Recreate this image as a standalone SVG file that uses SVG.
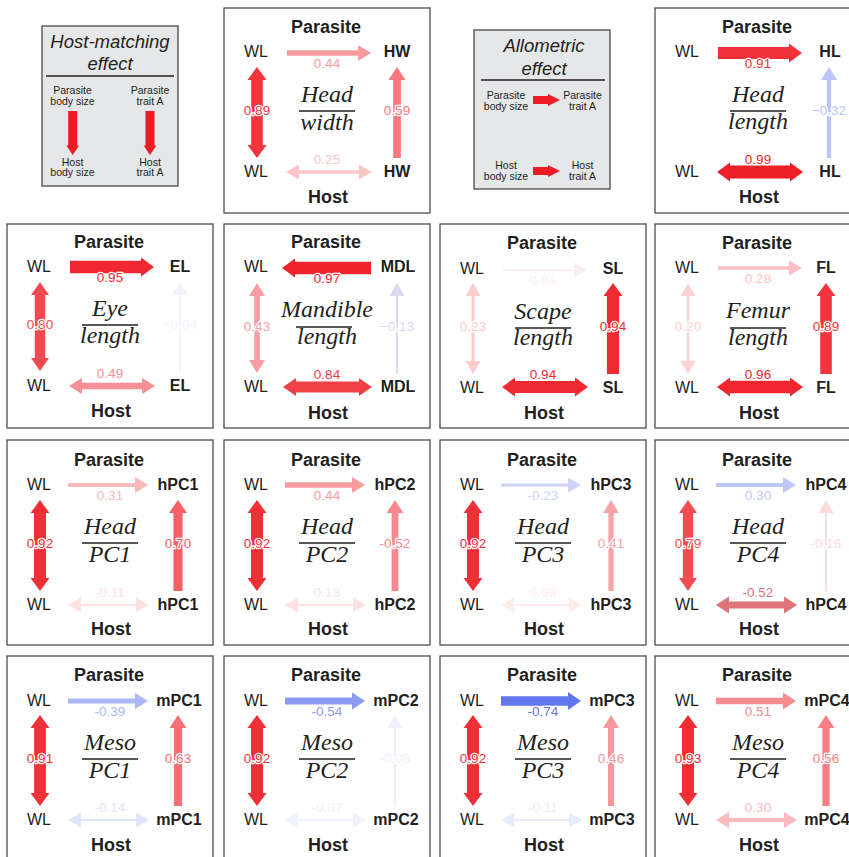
<svg xmlns="http://www.w3.org/2000/svg" width="849" height="857" viewBox="0 0 849 857">
  <style>
    .pb { fill: #fff; stroke: #4d4d4d; stroke-width: 1.3; }
    .lg { fill: #E6E7E8; stroke: #3a3a3a; stroke-width: 1.2; }
    text { font-family: "Liberation Sans", Arial, sans-serif; fill: #231F20; text-anchor: middle; }
    .grp { font-size: 18px; font-weight: bold; }
    .nd { font-size: 16px; }
    .ndb { font-size: 16px; font-weight: bold; }
    .frac { font-family: "Liberation Serif", "Times New Roman", serif; font-style: italic; font-size: 24px; }
    .fl { stroke: #231F20; stroke-width: 1.3; }
    .lt { font-size: 18.5px; font-style: italic; }
    .ls { font-size: 10.5px; }
    .conn polygon { stroke: none; }
    .conn line { fill: none; }
    .conn text.v { fill: inherit; font-size: 13.5px; stroke: #fff; stroke-width: 2.5; paint-order: stroke; stroke-linejoin: round; }
  </style>

  <!-- Key: host-matching effect -->
  <g id="key-host-matching">
    <rect class="lg" x="42" y="26" width="136" height="160"/>
    <text class="lt" x="110" y="48">Host-matching</text>
    <text class="lt" x="110" y="70">effect</text>
    <line class="fl" x1="46" y1="76" x2="174" y2="76"/>
    <text class="ls" x="72.5" y="94">Parasite</text>
    <text class="ls" x="72.5" y="104.5">body size</text>
    <text class="ls" x="150" y="94">Parasite</text>
    <text class="ls" x="150" y="104.5">trait A</text>
    <g fill="#ED1C24">
      <rect x="68.2" y="111" width="9" height="35"/>
      <polygon points="72.7,155 66.3,145.5 79.1,145.5"/>
      <rect x="145.5" y="111" width="9" height="35"/>
      <polygon points="150,155 143.6,145.5 156.4,145.5"/>
    </g>
    <text class="ls" x="72.5" y="165.5">Host</text>
    <text class="ls" x="72.5" y="176">body size</text>
    <text class="ls" x="150" y="165.5">Host</text>
    <text class="ls" x="150" y="176">trait A</text>
  </g>

  <!-- Key: allometric effect -->
  <g id="key-allometric">
    <rect class="lg" x="474" y="30" width="136" height="159"/>
    <text class="lt" x="544" y="52">Allometric</text>
    <text class="lt" x="544" y="75">effect</text>
    <line class="fl" x1="481" y1="80" x2="605" y2="80"/>
    <text class="ls" x="506" y="99">Parasite</text>
    <text class="ls" x="506" y="110">body size</text>
    <text class="ls" x="582.5" y="99">Parasite</text>
    <text class="ls" x="582.5" y="110">trait A</text>
    <text class="ls" x="506" y="169">Host</text>
    <text class="ls" x="506" y="180">body size</text>
    <text class="ls" x="582.5" y="169">Host</text>
    <text class="ls" x="582.5" y="180">trait A</text>
    <g fill="#ED1C24">
      <rect x="533" y="96" width="16" height="8"/>
      <polygon points="560,100 548,94 548,106"/>
      <rect x="533" y="167" width="16" height="8"/>
      <polygon points="560,171 548,165 548,177"/>
    </g>
  </g>

  <!-- Head width -->
  <g id="head-width" transform="translate(224,8)">
    <rect class="pb" x="0" y="0" width="206" height="205"/>
    <text class="grp" x="102" y="25">Parasite</text>
    <text class="grp" x="104" y="195">Host</text>
    <text class="frac" x="103" y="94">Head</text>
    <line class="fl" x1="75" y1="103" x2="131" y2="103"/>
    <text class="frac" x="103" y="122">width</text>
    <g id="hw-p-wl"><text class="nd" x="32" y="49">WL</text></g>
    <g id="hw-p-tr"><text class="ndb" x="173" y="49">HW</text></g>
    <g id="hw-h-wl"><text class="nd" x="32" y="169">WL</text></g>
    <g id="hw-h-tr"><text class="ndb" x="173" y="169">HW</text></g>
    <g class="conn">
      <g fill="#F89B9F" stroke="#F89B9F"><line x1="63" y1="45" x2="136" y2="45" stroke-width="5.7"/><polygon points="147,45 134,37 134,53"/><text class="v" x="103" y="60">0.44</text></g>
      <g fill="#F0363C" stroke="#F0363C"><line x1="33" y1="71" x2="33" y2="138" stroke-width="11.6"/><polygon points="33,59 23.5,72 42.5,72"/><polygon points="33,150 23.5,137 42.5,137"/><text class="v" x="33" y="107">0.89</text></g>
      <g fill="#F5797E" stroke="#F5797E"><line x1="173" y1="150" x2="173" y2="71" stroke-width="7.7"/><polygon points="173,59 164.5,72 181.5,72"/><text class="v" x="173" y="107">0.59</text></g>
      <g fill="#FBC6C8" stroke="#FBC6C8"><line x1="74" y1="164" x2="136" y2="164" stroke-width="3.3"/><polygon points="62,164 75,156.5 75,171.5"/><polygon points="148,164 135,156.5 135,171.5"/><text class="v" x="103" y="156">0.25</text></g>
    </g>
  </g>

  <!-- Head length -->
  <g id="head-length" transform="translate(655,8)">
    <rect class="pb" x="0" y="0" width="206" height="205"/>
    <text class="grp" x="102" y="25">Parasite</text>
    <text class="grp" x="104" y="195">Host</text>
    <text class="frac" x="103" y="94">Head</text>
    <line class="fl" x1="75" y1="103" x2="131" y2="103"/>
    <text class="frac" x="103" y="121">length</text>
    <g id="hl-p-wl"><text class="nd" x="32" y="49">WL</text></g>
    <g id="hl-p-tr"><text class="ndb" x="175" y="49">HL</text></g>
    <g id="hl-h-wl"><text class="nd" x="32" y="169">WL</text></g>
    <g id="hl-h-tr"><text class="ndb" x="175" y="169">HL</text></g>
    <g class="conn">
      <g fill="#F03138" stroke="#F03138"><line x1="63" y1="45" x2="136" y2="45" stroke-width="11.8"/><polygon points="147,45 134,35.5 134,54.5"/><text class="v" x="103" y="60">0.91</text></g>
      <g fill="#BAC4F7" stroke="#BAC4F7"><line x1="174" y1="150" x2="174" y2="71" stroke-width="4.2"/><polygon points="174,59 166,72 182,72"/><text class="v" x="174" y="107">−0.32</text></g>
      <g fill="#EE1F26" stroke="#EE1F26"><line x1="74" y1="164" x2="136" y2="164" stroke-width="12.9"/><polygon points="62,164 75,154.5 75,173.5"/><polygon points="148,164 135,154.5 135,173.5"/><text class="v" x="103" y="156">0.99</text></g>
    </g>
  </g>

  <!-- Eye length -->
  <g id="eye-length" transform="translate(7,224)">
    <rect class="pb" x="0" y="0" width="206" height="204"/>
    <text class="grp" x="102" y="24">Parasite</text>
    <text class="grp" x="104" y="193">Host</text>
    <text class="frac" x="103" y="92">Eye</text>
    <line class="fl" x1="75" y1="101" x2="131" y2="101"/>
    <text class="frac" x="103" y="119">length</text>
    <g id="el-p-wl"><text class="nd" x="32" y="48">WL</text></g>
    <g id="el-p-tr"><text class="ndb" x="173" y="48">EL</text></g>
    <g id="el-h-wl"><text class="nd" x="32" y="167">WL</text></g>
    <g id="el-h-tr"><text class="ndb" x="173" y="167">EL</text></g>
    <g class="conn">
      <g fill="#EF282F" stroke="#EF282F"><line x1="63" y1="43" x2="136" y2="43" stroke-width="12.4"/><polygon points="147,43 134,33.5 134,52.5"/><text class="v" x="103" y="58">0.95</text></g>
      <g fill="#F14A50" stroke="#F14A50"><line x1="33" y1="70" x2="33" y2="135" stroke-width="10.4"/><polygon points="33,58 24,71 42,71"/><polygon points="33,147 24,134 42,134"/><text class="v" x="33" y="105">0.80</text></g>
      <g fill="#F2F3FB" stroke="#F2F3FB"><line x1="173" y1="148" x2="173" y2="70" stroke-width="2"/><polygon points="173,58 165.5,71 180.5,71"/><text class="v" x="173" y="105">−0.04</text></g>
      <g fill="#F79094" stroke="#F79094"><line x1="74" y1="162" x2="136" y2="162" stroke-width="6.4"/><polygon points="62,162 75,154 75,170"/><polygon points="148,162 135,154 135,170"/><text class="v" x="103" y="154">0.49</text></g>
    </g>
  </g>

  <!-- Mandible length -->
  <g id="mandible-length" transform="translate(224,224)">
    <rect class="pb" x="0" y="0" width="206" height="204"/>
    <text class="grp" x="102" y="24">Parasite</text>
    <text class="grp" x="104" y="195">Host</text>
    <text class="frac" x="103" y="93">Mandible</text>
    <line class="fl" x1="72" y1="103" x2="128" y2="103"/>
    <text class="frac" x="103" y="120">length</text>
    <g id="mdl-p-wl"><text class="nd" x="32" y="48">WL</text></g>
    <g id="mdl-p-tr"><text class="ndb" x="174" y="48">MDL</text></g>
    <g id="mdl-h-wl"><text class="nd" x="32" y="168">WL</text></g>
    <g id="mdl-h-tr"><text class="ndb" x="174" y="168">MDL</text></g>
    <g class="conn">
      <g fill="#EF242B" stroke="#EF242B"><line x1="70" y1="44" x2="147" y2="44" stroke-width="12.6"/><polygon points="58,44 71,34.5 71,53.5"/><text class="v" x="103" y="59">0.97</text></g>
      <g fill="#F89DA1" stroke="#F89DA1"><line x1="33" y1="71" x2="33" y2="137" stroke-width="5.6"/><polygon points="33,59 25,72 41,72"/><polygon points="33,149 25,136 41,136"/><text class="v" x="33" y="107">0.43</text></g>
      <g fill="#DCDAF0" stroke="#DCDAF0"><line x1="173" y1="149" x2="173" y2="71" stroke-width="2"/><polygon points="173,59 165.5,72 180.5,72"/><text class="v" x="173" y="107">−0.13</text></g>
      <g fill="#F14147" stroke="#F14147"><line x1="71" y1="163" x2="136" y2="163" stroke-width="10.9"/><polygon points="59,163 72,154 72,172"/><polygon points="148,163 135,154 135,172"/><text class="v" x="103" y="155">0.84</text></g>
    </g>
  </g>

  <!-- Scape length -->
  <g id="scape-length" transform="translate(440,224)">
    <rect class="pb" x="0" y="0" width="206" height="204"/>
    <text class="grp" x="102" y="25">Parasite</text>
    <text class="grp" x="104" y="195">Host</text>
    <text class="frac" x="103" y="95">Scape</text>
    <line class="fl" x1="75" y1="104" x2="131" y2="104"/>
    <text class="frac" x="103" y="121">length</text>
    <g id="sl-p-wl"><text class="nd" x="32" y="50">WL</text></g>
    <g id="sl-p-tr"><text class="ndb" x="173" y="50">SL</text></g>
    <g id="sl-h-wl"><text class="nd" x="32" y="169">WL</text></g>
    <g id="sl-h-tr"><text class="ndb" x="173" y="169">SL</text></g>
    <g class="conn">
      <g fill="#FDEEEE" stroke="#FDEEEE"><line x1="63" y1="46" x2="136" y2="46" stroke-width="2"/><polygon points="147,46 134,38.5 134,53.5"/><text class="v" x="103" y="61">0.04</text></g>
      <g fill="#FBCBCD" stroke="#FBCBCD"><line x1="33" y1="71" x2="33" y2="138" stroke-width="3"/><polygon points="33,59 25.5,72 40.5,72"/><polygon points="33,150 25.5,137 40.5,137"/><text class="v" x="33" y="107">0.23</text></g>
      <g fill="#EF2B31" stroke="#EF2B31"><line x1="173" y1="150" x2="173" y2="71" stroke-width="12.2"/><polygon points="173,59 163.5,72 182.5,72"/><text class="v" x="173" y="107">0.94</text></g>
      <g fill="#EF2B31" stroke="#EF2B31"><line x1="74" y1="163" x2="136" y2="163" stroke-width="12.2"/><polygon points="62,163 75,153.5 75,172.5"/><polygon points="148,163 135,153.5 135,172.5"/><text class="v" x="103" y="155">0.94</text></g>
    </g>
  </g>

  <!-- Femur length -->
  <g id="femur-length" transform="translate(655,224)">
    <rect class="pb" x="0" y="0" width="206" height="204"/>
    <text class="grp" x="102" y="25">Parasite</text>
    <text class="grp" x="104" y="195">Host</text>
    <text class="frac" x="103" y="94">Femur</text>
    <line class="fl" x1="75" y1="104" x2="131" y2="104"/>
    <text class="frac" x="103" y="121">length</text>
    <g id="fl-p-wl"><text class="nd" x="32" y="49">WL</text></g>
    <g id="fl-p-tr"><text class="ndb" x="171" y="49">FL</text></g>
    <g id="fl-h-wl"><text class="nd" x="32" y="169">WL</text></g>
    <g id="fl-h-tr"><text class="ndb" x="171" y="169">FL</text></g>
    <g class="conn">
      <g fill="#FABFC2" stroke="#FABFC2"><line x1="63" y1="44" x2="136" y2="44" stroke-width="3.6"/><polygon points="147,44 134,36.5 134,51.5"/><text class="v" x="103" y="59">0.28</text></g>
      <g fill="#FCD2D3" stroke="#FCD2D3"><line x1="33" y1="71" x2="33" y2="138" stroke-width="2.6"/><polygon points="33,59 25.5,72 40.5,72"/><polygon points="33,150 25.5,137 40.5,137"/><text class="v" x="33" y="107">0.20</text></g>
      <g fill="#F0363C" stroke="#F0363C"><line x1="171" y1="150" x2="171" y2="71" stroke-width="11.6"/><polygon points="171,59 161.5,72 180.5,72"/><text class="v" x="171" y="107">0.89</text></g>
      <g fill="#EF262D" stroke="#EF262D"><line x1="74" y1="163" x2="136" y2="163" stroke-width="12.5"/><polygon points="62,163 75,153.5 75,172.5"/><polygon points="148,163 135,153.5 135,172.5"/><text class="v" x="103" y="155">0.96</text></g>
    </g>
  </g>

  <!-- Head PC1 -->
  <g id="head-pc1" transform="translate(7,440)">
    <rect class="pb" x="0" y="0" width="206" height="205"/>
    <text class="grp" x="102" y="26">Parasite</text>
    <text class="grp" x="104" y="195">Host</text>
    <text class="frac" x="103" y="94">Head</text>
    <line class="fl" x1="75" y1="103" x2="131" y2="103"/>
    <text class="frac" x="103" y="122">PC1</text>
    <g id="hpc1-p-wl"><text class="nd" x="32" y="50">WL</text></g>
    <g id="hpc1-p-tr"><text class="ndb" x="171" y="50">hPC1</text></g>
    <g id="hpc1-h-wl"><text class="nd" x="32" y="170">WL</text></g>
    <g id="hpc1-h-tr"><text class="ndb" x="171" y="170">hPC1</text></g>
    <g class="conn">
      <g fill="#FAB9BB" stroke="#FAB9BB"><line x1="61" y1="45" x2="130" y2="45" stroke-width="4"/><polygon points="141,45 128,37 128,53"/><text class="v" x="103" y="60">0.31</text></g>
      <g fill="#EF2F36" stroke="#EF2F36"><line x1="33" y1="72" x2="33" y2="139" stroke-width="12"/><polygon points="33,60 23.5,73 42.5,73"/><polygon points="33,151 23.5,138 42.5,138"/><text class="v" x="33" y="108">0.92</text></g>
      <g fill="#F36066" stroke="#F36066"><line x1="171" y1="151" x2="171" y2="72" stroke-width="9.1"/><polygon points="171,60 162,73 180,73"/><text class="v" x="171" y="108">0.70</text></g>
      <g fill="#FBE3E2" stroke="#FBE3E2"><line x1="73" y1="165" x2="130" y2="165" stroke-width="2"/><polygon points="61,165 74,157.5 74,172.5"/><polygon points="142,165 129,157.5 129,172.5"/><text class="v" x="103" y="157">-0.11</text></g>
    </g>
  </g>

  <!-- Head PC2 -->
  <g id="head-pc2" transform="translate(224,440)">
    <rect class="pb" x="0" y="0" width="206" height="205"/>
    <text class="grp" x="102" y="26">Parasite</text>
    <text class="grp" x="104" y="195">Host</text>
    <text class="frac" x="103" y="94">Head</text>
    <line class="fl" x1="75" y1="103" x2="131" y2="103"/>
    <text class="frac" x="103" y="122">PC2</text>
    <g id="hpc2-p-wl"><text class="nd" x="32" y="50">WL</text></g>
    <g id="hpc2-p-tr"><text class="ndb" x="171" y="50">hPC2</text></g>
    <g id="hpc2-h-wl"><text class="nd" x="32" y="170">WL</text></g>
    <g id="hpc2-h-tr"><text class="ndb" x="171" y="170">hPC2</text></g>
    <g class="conn">
      <g fill="#F89B9F" stroke="#F89B9F"><line x1="61" y1="45" x2="130" y2="45" stroke-width="5.7"/><polygon points="141,45 128,37 128,53"/><text class="v" x="103" y="60">0.44</text></g>
      <g fill="#EF2F36" stroke="#EF2F36"><line x1="33" y1="72" x2="33" y2="139" stroke-width="12"/><polygon points="33,60 23.5,73 42.5,73"/><polygon points="33,151 23.5,138 42.5,138"/><text class="v" x="33" y="108">0.92</text></g>
      <g fill="#F6898E" stroke="#F6898E"><line x1="171" y1="151" x2="171" y2="72" stroke-width="6.8"/><polygon points="171,60 162.5,73 179.5,73"/><text class="v" x="171" y="108">-0.52</text></g>
      <g fill="#FDE2E3" stroke="#FDE2E3"><line x1="73" y1="165" x2="130" y2="165" stroke-width="2"/><polygon points="61,165 74,157.5 74,172.5"/><polygon points="142,165 129,157.5 129,172.5"/><text class="v" x="103" y="157">0.13</text></g>
    </g>
  </g>

  <!-- Head PC3 -->
  <g id="head-pc3" transform="translate(440,440)">
    <rect class="pb" x="0" y="0" width="206" height="205"/>
    <text class="grp" x="102" y="26">Parasite</text>
    <text class="grp" x="104" y="195">Host</text>
    <text class="frac" x="103" y="94">Head</text>
    <line class="fl" x1="75" y1="103" x2="131" y2="103"/>
    <text class="frac" x="103" y="122">PC3</text>
    <g id="hpc3-p-wl"><text class="nd" x="32" y="50">WL</text></g>
    <g id="hpc3-p-tr"><text class="ndb" x="171" y="50">hPC3</text></g>
    <g id="hpc3-h-wl"><text class="nd" x="32" y="170">WL</text></g>
    <g id="hpc3-h-tr"><text class="ndb" x="171" y="170">hPC3</text></g>
    <g class="conn">
      <g fill="#CED4F9" stroke="#CED4F9"><line x1="61" y1="45" x2="130" y2="45" stroke-width="3"/><polygon points="141,45 128,37.5 128,52.5"/><text class="v" x="103" y="60">-0.23</text></g>
      <g fill="#EF2F36" stroke="#EF2F36"><line x1="33" y1="72" x2="33" y2="139" stroke-width="12"/><polygon points="33,60 23.5,73 42.5,73"/><polygon points="33,151 23.5,138 42.5,138"/><text class="v" x="33" y="108">0.92</text></g>
      <g fill="#F8A2A6" stroke="#F8A2A6"><line x1="171" y1="151" x2="171" y2="72" stroke-width="5.3"/><polygon points="171,60 163,73 179,73"/><text class="v" x="171" y="108">0.41</text></g>
      <g fill="#FEEBEB" stroke="#FEEBEB"><line x1="73" y1="165" x2="130" y2="165" stroke-width="2"/><polygon points="61,165 74,157.5 74,172.5"/><polygon points="142,165 129,157.5 129,172.5"/><text class="v" x="103" y="157">0.09</text></g>
    </g>
  </g>

  <!-- Head PC4 -->
  <g id="head-pc4" transform="translate(655,440)">
    <rect class="pb" x="0" y="0" width="206" height="205"/>
    <text class="grp" x="102" y="26">Parasite</text>
    <text class="grp" x="104" y="195">Host</text>
    <text class="frac" x="103" y="94">Head</text>
    <line class="fl" x1="75" y1="103" x2="131" y2="103"/>
    <text class="frac" x="103" y="122">PC4</text>
    <g id="hpc4-p-wl"><text class="nd" x="32" y="50">WL</text></g>
    <g id="hpc4-p-tr"><text class="ndb" x="171" y="50">hPC4</text></g>
    <g id="hpc4-h-wl"><text class="nd" x="32" y="170">WL</text></g>
    <g id="hpc4-h-tr"><text class="ndb" x="171" y="170">hPC4</text></g>
    <g class="conn">
      <g fill="#BEC8F7" stroke="#BEC8F7"><line x1="61" y1="45" x2="130" y2="45" stroke-width="3.9"/><polygon points="141,45 128,37 128,53"/><text class="v" x="103" y="60">0.30</text></g>
      <g fill="#F24C52" stroke="#F24C52"><line x1="33" y1="72" x2="33" y2="139" stroke-width="10.3"/><polygon points="33,60 24,73 42,73"/><polygon points="33,151 24,138 42,138"/><text class="v" x="33" y="108">0.79</text></g>
      <g fill="#FCDBDC" stroke="#FCDBDC"><line x1="171" y1="151" x2="171" y2="72" stroke-width="2.1"/><polygon points="171,60 163.5,73 178.5,73"/><text class="v" x="171" y="108">-0.16</text></g>
      <g fill="#DE7479" stroke="#DE7479"><line x1="73" y1="165" x2="130" y2="165" stroke-width="6.8"/><polygon points="61,165 74,156.5 74,173.5"/><polygon points="142,165 129,156.5 129,173.5"/><text class="v" x="103" y="157">-0.52</text></g>
    </g>
  </g>

  <!-- Meso PC1 -->
  <g id="meso-pc1" transform="translate(7,656)">
    <rect class="pb" x="0" y="0" width="206" height="205"/>
    <text class="grp" x="102" y="25">Parasite</text>
    <text class="grp" x="104" y="195">Host</text>
    <text class="frac" x="103" y="94">Meso</text>
    <line class="fl" x1="75" y1="103" x2="131" y2="103"/>
    <text class="frac" x="103" y="122">PC1</text>
    <g id="mpc1-p-wl"><text class="nd" x="32" y="50">WL</text></g>
    <g id="mpc1-p-tr"><text class="ndb" x="172" y="50">mPC1</text></g>
    <g id="mpc1-h-wl"><text class="nd" x="32" y="169">WL</text></g>
    <g id="mpc1-h-tr"><text class="ndb" x="172" y="169">mPC1</text></g>
    <g class="conn">
      <g fill="#ABB7F5" stroke="#ABB7F5"><line x1="61" y1="45" x2="130" y2="45" stroke-width="5.1"/><polygon points="141,45 128,37 128,53"/><text class="v" x="103" y="60">-0.39</text></g>
      <g fill="#F03138" stroke="#F03138"><line x1="33" y1="71" x2="33" y2="138" stroke-width="11.8"/><polygon points="33,59 23.5,72 42.5,72"/><polygon points="33,150 23.5,137 42.5,137"/><text class="v" x="33" y="107">0.91</text></g>
      <g fill="#F47075" stroke="#F47075"><line x1="171" y1="150" x2="171" y2="71" stroke-width="8.2"/><polygon points="171,59 162.5,72 179.5,72"/><text class="v" x="171" y="107">0.63</text></g>
      <g fill="#E1E5FB" stroke="#E1E5FB"><line x1="73" y1="164" x2="130" y2="164" stroke-width="2"/><polygon points="61,164 74,156.5 74,171.5"/><polygon points="142,164 129,156.5 129,171.5"/><text class="v" x="103" y="156">-0.14</text></g>
    </g>
  </g>

  <!-- Meso PC2 -->
  <g id="meso-pc2" transform="translate(224,656)">
    <rect class="pb" x="0" y="0" width="206" height="205"/>
    <text class="grp" x="102" y="25">Parasite</text>
    <text class="grp" x="104" y="195">Host</text>
    <text class="frac" x="103" y="94">Meso</text>
    <line class="fl" x1="75" y1="103" x2="131" y2="103"/>
    <text class="frac" x="103" y="122">PC2</text>
    <g id="mpc2-p-wl"><text class="nd" x="32" y="50">WL</text></g>
    <g id="mpc2-p-tr"><text class="ndb" x="172" y="50">mPC2</text></g>
    <g id="mpc2-h-wl"><text class="nd" x="32" y="169">WL</text></g>
    <g id="mpc2-h-tr"><text class="ndb" x="172" y="169">mPC2</text></g>
    <g class="conn">
      <g fill="#8B9BF1" stroke="#8B9BF1"><line x1="61" y1="45" x2="130" y2="45" stroke-width="7"/><polygon points="141,45 128,36.5 128,53.5"/><text class="v" x="103" y="60">-0.54</text></g>
      <g fill="#EF2F36" stroke="#EF2F36"><line x1="33" y1="71" x2="33" y2="138" stroke-width="12"/><polygon points="33,59 23.5,72 42.5,72"/><polygon points="33,150 23.5,137 42.5,137"/><text class="v" x="33" y="107">0.92</text></g>
      <g fill="#EEF0FD" stroke="#EEF0FD"><line x1="171" y1="150" x2="171" y2="71" stroke-width="2"/><polygon points="171,59 163.5,72 178.5,72"/><text class="v" x="171" y="107">-0.08</text></g>
      <g fill="#F0F2FD" stroke="#F0F2FD"><line x1="73" y1="164" x2="130" y2="164" stroke-width="2"/><polygon points="61,164 74,156.5 74,171.5"/><polygon points="142,164 129,156.5 129,171.5"/><text class="v" x="103" y="156">-0.07</text></g>
    </g>
  </g>

  <!-- Meso PC3 -->
  <g id="meso-pc3" transform="translate(440,656)">
    <rect class="pb" x="0" y="0" width="206" height="205"/>
    <text class="grp" x="102" y="25">Parasite</text>
    <text class="grp" x="104" y="195">Host</text>
    <text class="frac" x="103" y="94">Meso</text>
    <line class="fl" x1="75" y1="103" x2="131" y2="103"/>
    <text class="frac" x="103" y="122">PC3</text>
    <g id="mpc3-p-wl"><text class="nd" x="32" y="50">WL</text></g>
    <g id="mpc3-p-tr"><text class="ndb" x="172" y="50">mPC3</text></g>
    <g id="mpc3-h-wl"><text class="nd" x="32" y="169">WL</text></g>
    <g id="mpc3-h-tr"><text class="ndb" x="172" y="169">mPC3</text></g>
    <g class="conn">
      <g fill="#6076EC" stroke="#6076EC"><line x1="61" y1="45" x2="130" y2="45" stroke-width="9.6"/><polygon points="141,45 128,36 128,54"/><text class="v" x="103" y="60">-0.74</text></g>
      <g fill="#EF2F36" stroke="#EF2F36"><line x1="33" y1="71" x2="33" y2="138" stroke-width="12"/><polygon points="33,59 23.5,72 42.5,72"/><polygon points="33,150 23.5,137 42.5,137"/><text class="v" x="33" y="107">0.92</text></g>
      <g fill="#F7969B" stroke="#F7969B"><line x1="171" y1="150" x2="171" y2="71" stroke-width="6"/><polygon points="171,59 163,72 179,72"/><text class="v" x="171" y="107">0.46</text></g>
      <g fill="#E7EBFC" stroke="#E7EBFC"><line x1="73" y1="164" x2="130" y2="164" stroke-width="2"/><polygon points="61,164 74,156.5 74,171.5"/><polygon points="142,164 129,156.5 129,171.5"/><text class="v" x="103" y="156">-0.11</text></g>
    </g>
  </g>

  <!-- Meso PC4 -->
  <g id="meso-pc4" transform="translate(655,656)">
    <rect class="pb" x="0" y="0" width="206" height="205"/>
    <text class="grp" x="102" y="25">Parasite</text>
    <text class="grp" x="104" y="195">Host</text>
    <text class="frac" x="103" y="94">Meso</text>
    <line class="fl" x1="75" y1="103" x2="131" y2="103"/>
    <text class="frac" x="103" y="122">PC4</text>
    <g id="mpc4-p-wl"><text class="nd" x="32" y="50">WL</text></g>
    <g id="mpc4-p-tr"><text class="ndb" x="172" y="50">mPC4</text></g>
    <g id="mpc4-h-wl"><text class="nd" x="32" y="169">WL</text></g>
    <g id="mpc4-h-tr"><text class="ndb" x="172" y="169">mPC4</text></g>
    <g class="conn">
      <g fill="#F68B90" stroke="#F68B90"><line x1="61" y1="45" x2="130" y2="45" stroke-width="6.6"/><polygon points="141,45 128,36.5 128,53.5"/><text class="v" x="103" y="60">0.51</text></g>
      <g fill="#EF2D33" stroke="#EF2D33"><line x1="33" y1="71" x2="33" y2="138" stroke-width="12.1"/><polygon points="33,59 23.5,72 42.5,72"/><polygon points="33,150 23.5,137 42.5,137"/><text class="v" x="33" y="107">0.93</text></g>
      <g fill="#F68085" stroke="#F68085"><line x1="171" y1="150" x2="171" y2="71" stroke-width="7.3"/><polygon points="171,59 162.5,72 179.5,72"/><text class="v" x="171" y="107">0.56</text></g>
      <g fill="#FABBBE" stroke="#FABBBE"><line x1="73" y1="164" x2="130" y2="164" stroke-width="3.9"/><polygon points="61,164 74,156 74,172"/><polygon points="142,164 129,156 129,172"/><text class="v" x="103" y="156">0.30</text></g>
    </g>
  </g>
</svg>
